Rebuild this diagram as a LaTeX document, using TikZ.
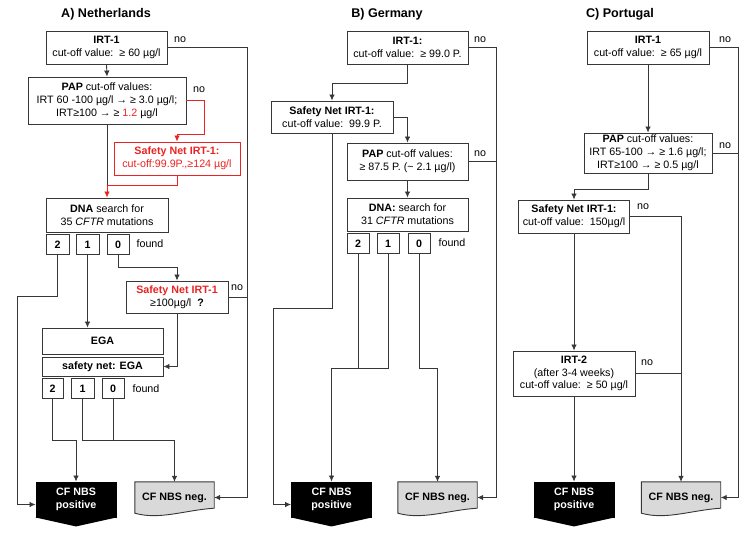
\documentclass[tikz,border=0pt]{standalone}
\usepackage{fontspec}
\setmainfont{Liberation Sans}
\usepackage{tikz}
\usetikzlibrary{calc,arrows.meta,backgrounds,positioning}
\usepackage{color}
\definecolor{netred}{RGB}{235,35,35}
\definecolor{flowgray}{RGB}{55,55,55}
\definecolor{neggray}{RGB}{217,217,217}
\tikzset{
basefont/.style={font=\fontsize{10.7}{12.8}\selectfont}, % text size of all boxes
stepbox/.style={basefont, draw=flowgray, line width=0.9pt, align=center, inner sep=0pt, fill=white}, % one screening step
redbox/.style={stepbox, draw=netred, text=netred}, % the red safety net box
numbox/.style={stepbox, font={\fontsize{10.7}{12.8}\selectfont\bfseries}, minimum height=20}, % 2 / 1 / 0 found
posbox/.style={stepbox, fill=black, draw=black, text=white, font={\fontsize{10.7}{12.8}\selectfont\bfseries}, minimum width=80, minimum height=35},
negbox/.style={font={\fontsize{10.7}{12.8}\selectfont\bfseries}, align=center, inner sep=0pt, minimum width=79, minimum height=31},
nolabel/.style={basefont, inner sep=0pt},
title/.style={font={\fontsize{12.6}{14}\selectfont\bfseries}, inner sep=0pt},
flowline/.style={draw=flowgray, line width=0.85pt},
flowarrow/.style={flowline, -{Latex[length=6pt,width=5.5pt]}},
redarrow/.style={flowarrow, draw=netred},
}
% pointed box for a positive result
\newcommand{\posshape}[1]{\fill (#1.south west) -- (#1.south east) -- ($(#1.south)+(0,9)$) -- cycle;}
% document box for a negative result
\newcommand{\negshape}[1]{\filldraw[fill=neggray, draw=flowgray, line width=0.9pt] (#1.north west) -- (#1.north east) -- ($(#1.south east)+(0,-5)$) .. controls ($(#1.south east)+(-30,-3)$) and ($(#1.south west)+(25,7)$) .. (#1.south west) -- cycle;}

\begin{document}
\begin{tikzpicture}[x=1pt,y=1pt,yscale=-1,xscale=1]
\useasboundingbox (0,0) rectangle (752,536);
%Titles
\node[title] (nltitle) at (106,14) {A) Netherlands};
\node[title] (detitle) at (387,14) {B) Germany};
\node[title] (pttitle) at (620,14) {C) Portugal};

%Netherlands
\node[stepbox, minimum width=121, minimum height=33] (nlirt) at (106.5,47.5) {\textbf{IRT-1}\\cut-off value:\ \ ≥ 60 µg/l};
\node[stepbox, minimum width=158, minimum height=47] (nlpap) at (107,100.5) {\textbf{PAP} cut-off values:\\IRT\ 60 -100 µg/l\ → ≥ 3.0 µg/l;\\IRT≥100\ → ≥ \textcolor{netred}{1.2} µg/l};
\node[redbox, minimum width=126, minimum height=33] (nlsafe) at (177,158.5) {\textbf{Safety Net IRT-1:}\\cut-off:99.9P.,≥124\ µg/l};
\node[stepbox, minimum width=122, minimum height=34] (nldna) at (107,215) {\textbf{DNA}\ search for\\35 \textit{CFTR}\ mutations};
\node[numbox, minimum width=23] (nlda2) at (57.5,244.5) {2};
\node[numbox, minimum width=23] (nlda1) at (87.5,244.5) {1};
\node[numbox, minimum width=22] (nlda0) at (118,244.5) {0};
\node[nolabel] (nlfounda) at (150,244) {found};
\node[stepbox, minimum width=102, minimum height=32] (nlsafe2) at (177,297) {\textcolor{netred}{\textbf{Safety Net IRT-1}}\\≥100µg/l\ \ \textbf{?}};
\node[stepbox, minimum width=121, minimum height=26] (nlega) at (102.5,341) {\textbf{EGA}};
\node[stepbox, minimum width=121, minimum height=19] (nlsnega) at (102.5,366.5) {\textbf{safety net: EGA}};
\node[numbox, minimum width=21] (nlegb2) at (52.5,388.5) {2};
\node[numbox, minimum width=23] (nlegb1) at (82.5,388.5) {1};
\node[numbox, minimum width=22] (nlegb0) at (113,388.5) {0};
\node[nolabel] (nlfoundb) at (146,389) {found};
\node[posbox] (nlpos) at (76,499.5) {CF NBS\\positive};
\node[negbox] (nlneg) at (174.5,497.5) {CF NBS neg.};
\node[nolabel] (nlnoa) at (180,40) {no};
\node[nolabel] (nlnob) at (199,90) {no};
\node[nolabel] (nlnoc) at (237,288) {no};

%Germany
\node[stepbox, minimum width=121, minimum height=33] (deirt) at (407.5,47.5) {\textbf{IRT-1:}\\cut-off value:\ \ ≥ 99.0 P.};
\node[stepbox, minimum width=122, minimum height=32] (desafe) at (332,117) {\textbf{Safety Net IRT-1:}\\cut-off value:\ \ 99.9 P.};
\node[stepbox, minimum width=121, minimum height=37] (depap) at (407.5,161.5) {\textbf{PAP} cut-off values:\\≥ 87.5 P. (\textasciitilde\ 2.1 µg/l)};
\node[stepbox, minimum width=121, minimum height=33] (dedna) at (407.5,214.5) {\textbf{DNA:}\ search for\\31 \textit{CFTR}\ mutations};
\node[numbox, minimum width=22] (dedna2) at (358,243.5) {2};
\node[numbox, minimum width=22] (dedna1) at (388,243.5) {1};
\node[numbox, minimum width=22] (dedna0) at (419,243.5) {0};
\node[nolabel] (defound) at (452,243) {found};
\node[posbox] (depos) at (331.5,499.5) {CF NBS\\positive};
\node[negbox] (deneg) at (437.5,497.5) {CF NBS neg.};
\node[nolabel] (denoa) at (480,40) {no};
\node[nolabel] (denob) at (480,154) {no};

%Portugal
\node[stepbox, minimum width=122, minimum height=33] (ptirt) at (648,47.5) {\textbf{IRT-1}\\cut-off value:\ \ ≥ 65 µg/l};
\node[stepbox, minimum width=128, minimum height=40] (ptpap) at (648,153) {\textbf{PAP} cut-off values:\\IRT\ 65-100\ → ≥ 1.6 µg/l;\\IRT≥100\ → ≥ 0.5 µg/l};
\node[stepbox, minimum width=111, minimum height=33] (ptsafe) at (574,216.5) {\textbf{Safety Net IRT-1:}\\cut-off value:\ \ 150µg/l};
\node[stepbox, minimum width=122, minimum height=45] (ptirt2) at (574,373.5) {\textbf{IRT-2}\\(after\ 3-4 weeks)\\cut-off value:\ \ ≥ 50 µg/l};
\node[posbox] (ptpos) at (574,499.5) {CF NBS\\positive};
\node[negbox] (ptneg) at (681,497.5) {CF NBS neg.};
\node[nolabel] (ptnoa) at (725,40) {no};
\node[nolabel] (ptnob) at (725,146) {no};
\node[nolabel] (ptnoc) at (643,207) {no};
\node[nolabel] (ptnod) at (647,363) {no};

%Result shapes
\posshape{nlpos}
\posshape{depos}
\posshape{ptpos}
\begin{scope}[on background layer]
\negshape{nlneg}
\negshape{deneg}
\negshape{ptneg}
\end{scope}

%Netherlands lines
\draw[flowarrow] (nlirt.south) -- (nlpap.north);
\draw[flowarrow] (nlirt.east) -- ++(80,0) |- (nlneg.east);
\draw[redarrow] (nlpap.east) -- ++(18,0) -- ++(0,33.5) -| (nlsafe.north);
\draw[flowline] (nlpap.south) -- ++(0,61) coordinate (nlmerge);
\draw[redarrow] (nlsafe.south) |- (nlmerge) -- (nldna.north);
\draw[flowarrow] (nlda0.south) -- ++(0,12.5) -| (nlsafe2.north);
\draw[flowarrow] (nlda1.south) -- (nlda1.south |- nlega.north);
\draw[flowarrow] (nlda2.south) -- ++(0,41.5) -- ++(-40.5,0) |- ($(nlpos.west)+(0,5)$);
\draw[flowline] (nlsafe2.east) -- ++(19,0);
\draw[flowarrow] (nlsafe2.south) |- (nlsnega.east);
\draw[flowarrow] (nlegb2.south) -- ++(0,41) -| (nlpos.north);
\draw[flowarrow] (nlegb1.south) -- ++(0,41) coordinate (nljoin) -| (nlneg.north);
\draw[flowline] (nlegb0.south) |- (nljoin);

%Germany lines
\draw[flowarrow] (deirt.south) -- ++(0,19) -| (desafe.north);
\draw[flowarrow] (deirt.east) -- ++(28,0) |- (deneg.east);
\draw[flowarrow] (desafe.east) -| (depap.north);
\draw[flowline] (depap.east) -- ++(28,0);
\draw[flowarrow] (depap.south) -- (dedna.north);
\draw[flowarrow] (desafe.south) -- ++(0,175) -- ++(-59,0) |- ($(depos.west)+(0,5)$);
\draw[flowarrow] (dedna2.south) -- ++(0,114) coordinate (dejoin) -| (depos.north);
\draw[flowline] (dedna1.south) |- (dejoin);
\draw[flowarrow] (dedna0.south) -- ++(0,114) -| (deneg.north);

%Portugal lines
\draw[flowarrow] (ptirt.south) -- (ptpap.north);
\draw[flowarrow] (ptirt.east) -- ++(29,0) |- (ptneg.east);
\draw[flowline] (ptpap.east) -- ++(26,0);
\draw[flowarrow] (ptpap.south) -- ++(0,16) -| (ptsafe.north);
\draw[flowarrow] (ptsafe.east) -| (ptneg.north);
\draw[flowarrow] (ptsafe.south) -- (ptirt2.north);
\draw[flowline] (ptirt2.east) -- (ptirt2.east -| ptneg.north);
\draw[flowarrow] (ptirt2.south) -- (ptpos.north);
\end{tikzpicture}
\end{document}
